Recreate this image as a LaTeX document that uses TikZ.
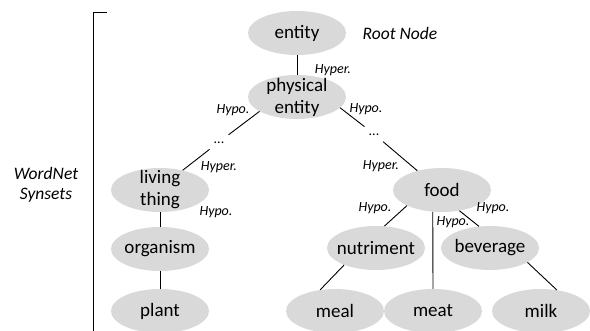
\documentclass[tikz,border=0pt]{standalone}
\usepackage{fontspec}
\setmainfont{Carlito}
\usetikzlibrary{shapes.geometric}
\definecolor{synsetgray}{HTML}{D9D9D9}
\tikzset{
  synset/.style={
      ellipse,
      fill=synsetgray,
      minimum width=98pt,
      minimum height=44pt,
      inner xsep=-5pt,
      inner ysep=-5pt,
      align=center,
      font=\fontsize{19}{22}\selectfont
  },
  rel/.style={
      font=\fontsize{14}{16}\selectfont\itshape,
      inner sep=0pt
  },
  note/.style={
      font=\fontsize{17.5}{20}\selectfont\itshape,
      align=center,
      inner sep=0pt
  },
  gap/.style={
      font=\fontsize{14}{16}\selectfont,
      inner xsep=4pt,
      inner ysep=6pt,
      text height=3pt,
      text depth=0pt
  },
  link/.style={line width=0.9pt}
}

\begin{document}
\begin{tikzpicture}[x=1pt,y=-1pt]
    \useasboundingbox (0,0) rectangle (590,331);
    \node[synset] (entity) at (297,33) {entity};
    \node[synset] (physical) at (297,97) {physical\\entity};
    \node[gap] (gapL) at (219,142) {...};
    \node[gap] (gapR) at (374,134) {...};
    \node[synset] (living) at (160,190) {living\\thing};
    \node[synset] (organism) at (160,249) {organism};
    \node[synset] (plant) at (160,311) {plant};
    \node[synset] (food) at (442,190) {food};
    \node[synset] (nutriment) at (376,248) {nutriment};
    \node[synset] (beverage) at (490,248) {beverage};
    \node[synset] (meal) at (335,311) {meal};
    \node[synset] (meat) at (433,311) {meat};
    \node[synset] (milk) at (541,311) {milk};

    \node[note] (root) at (400,33) {Root Node};
    \node[note] (wordnet) at (46,185) {WordNet\\Synsets};

    \node[rel] (hyperTop) at (333,70) {Hyper.};
    \node[rel] (hypoL) at (233,110) {Hypo.};
    \node[rel] (hyperL) at (219,167) {Hyper.};
    \node[rel] (hypoLiving) at (216,212) {Hypo.};
    \node[rel] (hypoR) at (366,109) {Hypo.};
    \node[rel] (hyperR) at (381,166) {Hyper.};
    \node[rel] (hypoNutri) at (375,208) {Hypo.};
    \node[rel] (hypoMeat) at (453,222) {Hypo.};
    \node[rel] (hypoBev) at (493,208) {Hypo.};

    \draw[link] (entity) -- (physical);
    \draw[link] (physical.201) -- (gapL);
    \draw[link] (gapL) -- (living.41);
    \draw[link] (physical.346) -- (gapR);
    \draw[link] (gapR) -- (food.142);
    \draw[link] (living) -- (organism);
    \draw[link] (organism) -- (plant);
    \draw[link] (food.204) -- (nutriment.69);
    \draw[link] (food.247) -- (meat.north);
    \draw[link] (food.310) -- (beverage.117);
    \draw[link] (nutriment.208) -- (meal.125);
    \draw[link] (beverage.339) -- (milk.53);

    \draw[link] (107,12) -- (93,12) -- (93,335);
\end{tikzpicture}
\end{document}
